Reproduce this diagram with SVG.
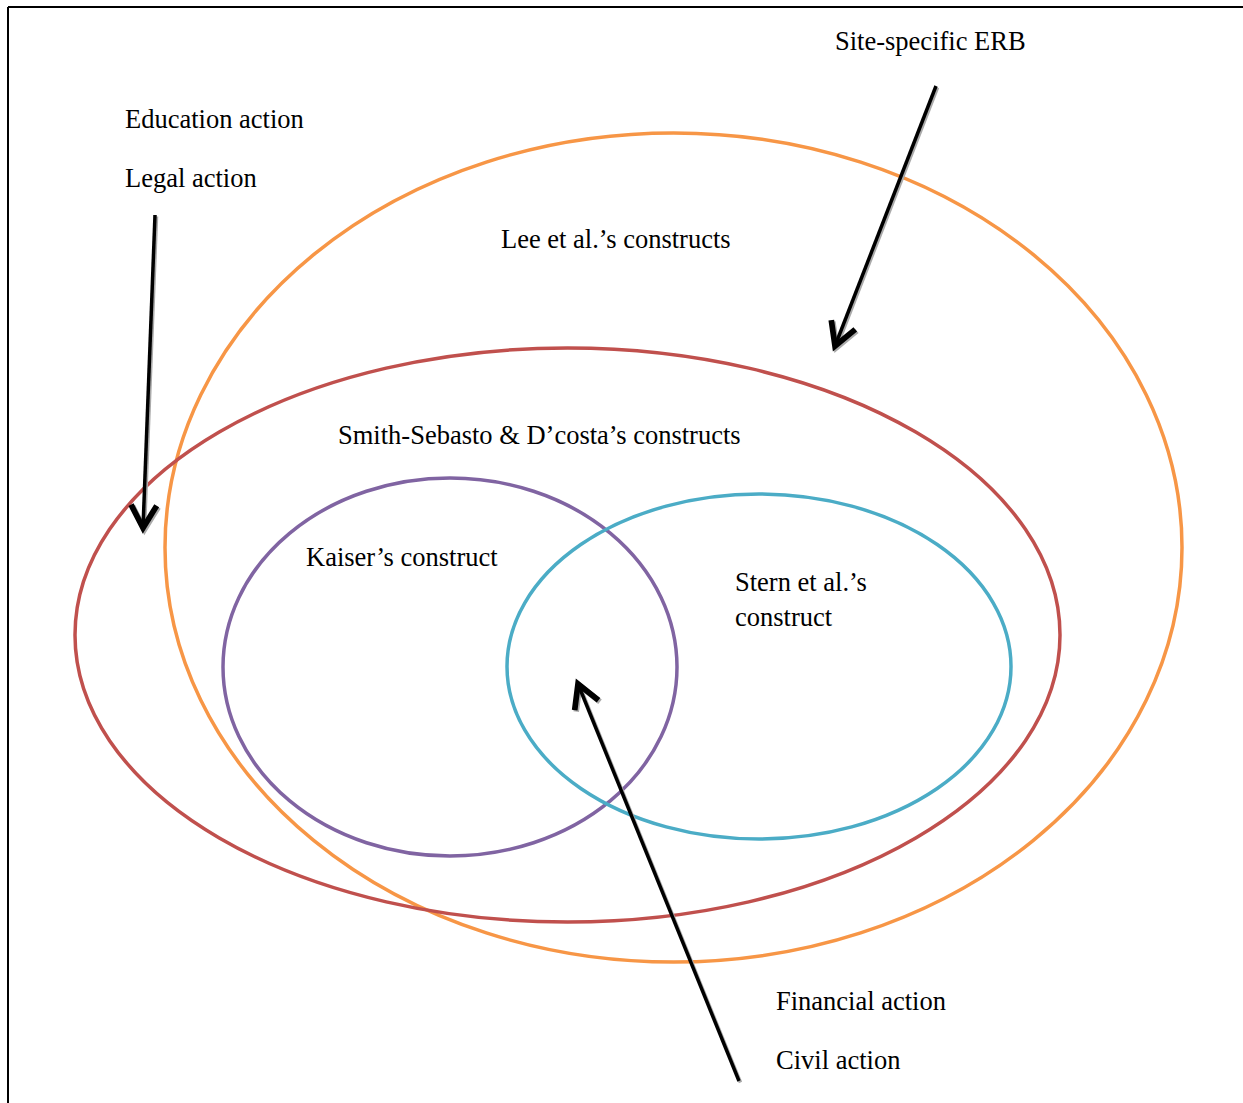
<svg xmlns="http://www.w3.org/2000/svg" width="1243" height="1103" viewBox="0 0 1243 1103">
<style>
text{font-family:"Liberation Serif","Times New Roman",serif;font-size:26.5px;fill:#000}
.ell{fill:none;stroke-width:3.5}
.arr{stroke:#000;stroke-width:3.5;fill:none;marker-end:url(#ah)}
.sh{stroke:#aaa;stroke-width:3.5;fill:none;marker-end:url(#ahs)}
</style>
<defs>
<marker id="ah" markerUnits="userSpaceOnUse" orient="auto" markerWidth="40" markerHeight="40" refX="0" refY="0" viewBox="-22 -14 26 28" overflow="visible">
<path d="M-16,-9 L0,0 L-16,9" fill="none" stroke="#000" stroke-width="4"/>
</marker>
<marker id="ahs" markerUnits="userSpaceOnUse" orient="auto" markerWidth="40" markerHeight="40" refX="0" refY="0" viewBox="-22 -14 26 28" overflow="visible">
<path d="M-16,-9 L0,0 L-16,9" fill="none" stroke="#aaa" stroke-width="4"/>
</marker>
</defs>
<rect width="1243" height="1103" fill="#fff"/>
<g id="frame" stroke="#000" stroke-width="2">
<line x1="8" y1="7" x2="1243" y2="7"/>
<line x1="8" y1="7" x2="8" y2="1103"/>
</g>
<g id="lee"><ellipse class="ell" stroke="#F79646" cx="673.5" cy="547.5" rx="508.5" ry="414.5"/>
<text x="501" y="248">Lee et al.’s constructs</text></g>
<g id="smith"><ellipse class="ell" stroke="#C0504D" cx="567.5" cy="635" rx="492.5" ry="287"/>
<text x="338" y="444">Smith-Sebasto &amp; D’costa’s constructs</text></g>
<g id="kaiser"><ellipse class="ell" stroke="#8064A2" cx="450" cy="667" rx="227" ry="189"/>
<text x="306" y="566">Kaiser’s construct</text></g>
<g id="stern"><ellipse class="ell" stroke="#4BACC6" cx="759" cy="666.5" rx="252" ry="172.5"/>
<text x="735" y="591">Stern et al.’s</text><text x="735" y="626">construct</text></g>
<g id="labels">
<text x="125" y="128">Education action</text>
<text x="125" y="187">Legal action</text>
<text x="835" y="50">Site-specific ERB</text>
<text x="776" y="1010">Financial action</text>
<text x="776" y="1069">Civil action</text>
</g>
<g id="connectors">
<line class="sh" x1="156.5" y1="216.5" x2="144.5" y2="529.5"/>
<line class="arr" x1="155" y1="215" x2="143" y2="528"/>
<line class="sh" x1="937.5" y1="87.5" x2="836.5" y2="347.5"/>
<line class="arr" x1="936" y1="86" x2="835" y2="346"/>
<line class="sh" x1="740.5" y1="1082.5" x2="579.5" y2="685.5"/>
<line class="arr" x1="739" y1="1081" x2="578" y2="684"/>
</g>
</svg>
